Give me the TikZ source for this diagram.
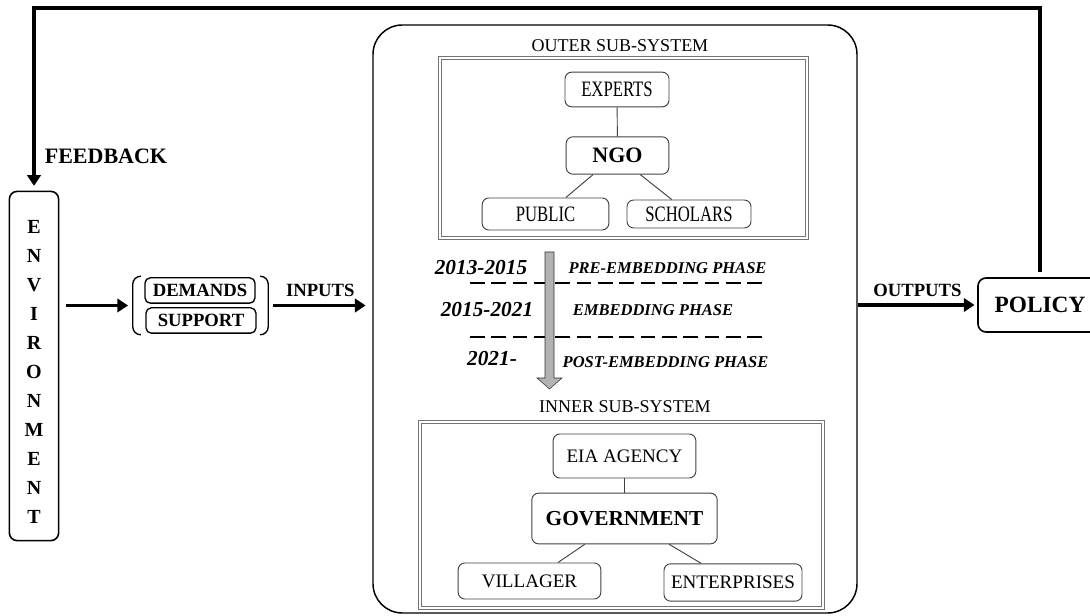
\documentclass[tikz,border=0pt]{standalone}
\usepackage{fontspec}
\setmainfont{Liberation Serif}
\usepackage{graphicx}
\usetikzlibrary{arrows.meta, calc, positioning, fit}

\newcommand{\fsz}[1]{\fontsize{#1pt}{#1pt}\selectfont}
\newcommand{\narrow}[1]{\scalebox{0.76}[1]{#1}}

\tikzset{
  actor/.style={draw=black!75, line width=0.7pt, rounded corners=5pt, inner sep=0pt},
  link/.style={draw=black!75, line width=0.7pt},
  frame/.style={draw=black!55, double=white, double distance=1.2pt, line width=0.6pt},
  flow/.style={line width=2.4pt, -{Triangle[length=8pt,width=10pt]}},
  phase/.style={font=\fsz{12.4}\bfseries\itshape},
  year/.style={font=\fsz{16}\bfseries\itshape},
  tag/.style={font=\fsz{14}\bfseries},
  title/.style={font=\fsz{13.5}}
}

\begin{document}
\begin{tikzpicture}[x=0.75pt, y=-0.75pt]
\useasboundingbox (0,0) rectangle (1090,616);

% Political system
\node[draw, line width=1.1pt, rounded corners=22pt, minimum width=363pt, minimum height=441pt] (sys) at (615,319) {};

% Outer sub-system
\node[title] (outertitle) at (620,46) {OUTER SUB-SYSTEM};
\draw[frame] (440,58) rectangle (807,238);
\node[actor, minimum width=78pt, minimum height=26pt, font=\fsz{16.5}] (experts) at (617,89.5) {\narrow{EXPERTS}};
\node[actor, minimum width=77pt, minimum height=28pt, font=\fsz{16.5}\bfseries] (ngo) at (617.5,155.5) {NGO};
\node[actor, minimum width=95pt, minimum height=24pt, font=\fsz{16.5}] (public) at (545.5,214) {\narrow{PUBLIC}};
\node[actor, minimum width=93pt, minimum height=21pt, font=\fsz{16.5}] (scholars) at (689,214) {\narrow{SCHOLARS}};
\draw[link] (experts) -- (ngo);
\draw[link] (ngo.218) -- (public.39);
\draw[link] (ngo.320) -- (scholars.140);

% Phases
\draw[line width=1.5pt, dash pattern=on 11pt off 5pt] (470,283) -- (767,283);
\draw[line width=1.5pt, dash pattern=on 11pt off 5pt] (470,337) -- (767,337);
\filldraw[fill=gray!60, draw=gray!40!black, line width=0.4pt] (545,252) -- (554,252) -- (554,378) -- (562,378) -- (549.5,389) -- (537,378) -- (545,378) -- cycle;
\node[year] (y1) at (481,268) {2013-2015};
\node[year] (y2) at (487,310) {2015-2021};
\node[year] (y3) at (492,359) {2021-};
\node[phase] (p1) at (667.5,268) {PRE-EMBEDDING PHASE};
\node[phase] (p2) at (653,310) {EMBEDDING PHASE};
\node[phase] (p3) at (665.5,362) {POST-EMBEDDING PHASE};

% Inner sub-system
\node[title] (innertitle) at (625,407) {INNER SUB-SYSTEM};
\draw[frame] (420,422) rectangle (823,608);
\node[actor, minimum width=107pt, minimum height=33pt, font=\fsz{14.3}] (eia) at (624.5,456) {EIA AGENCY};
\node[actor, minimum width=139pt, minimum height=38pt, font=\fsz{16}\bfseries] (gov) at (624.5,518.5) {GOVERNMENT};
\node[actor, minimum width=107pt, minimum height=27pt, font=\fsz{14.3}] (villager) at (529.5,581) {VILLAGER};
\node[actor, minimum width=103.5pt, minimum height=28pt, font=\fsz{14.3}] (enterprises) at (733,582.5) {ENTERPRISES};
\draw[link] (eia) -- (gov);
\draw[link] (gov.213) -- (villager.33);
\draw[link] (gov.330) -- (enterprises.149);

% Environment and inputs
\node[draw, line width=1.2pt, rounded corners=6pt, minimum width=37pt, minimum height=262pt, inner sep=0pt,
      font=\fontsize{15pt}{21.7pt}\selectfont\bfseries] (env) at (34,366)
      {\raisebox{-5pt}[\height][\depth]{\begin{tabular}{@{}c@{}}E\\N\\V\\I\\R\\O\\N\\M\\E\\N\\T\end{tabular}}};
\node[draw, line width=1pt, rounded corners=4pt, minimum width=82.5pt, minimum height=19pt, inner sep=0pt, tag] (demands) at (200,290.5) {DEMANDS};
\node[draw, line width=1pt, rounded corners=4pt, minimum width=82.5pt, minimum height=19pt, inner sep=0pt, tag] (support) at (201,320.5) {SUPPORT};
\node[fit=(demands)(support), inner xsep=8.5pt, inner ysep=0.5pt] (grp) {};
\draw[line width=1pt, rounded corners=6pt] ($(grp.north west)+(7,0)$) -- (grp.north west) -- (grp.south west) -- ($(grp.south west)+(7,0)$);
\draw[line width=1pt, rounded corners=6pt] ($(grp.north east)+(-7,0)$) -- (grp.north east) -- (grp.south east) -- ($(grp.south east)+(-7,0)$);
\draw[flow, shorten <=5pt, shorten >=3.5pt] (env.east |- grp.west) -- (grp.west);
\draw[flow, shorten <=3.5pt, shorten >=5pt] (grp.east) -- (sys.west |- grp.east) node[tag, midway, above=2pt] (inputs) {INPUTS};

% Outputs and feedback
\node[draw, line width=1.2pt, rounded corners=6pt, minimum width=93pt, minimum height=40.5pt, font=\fsz{17.5}\bfseries] (policy) at (1040,305) {POLICY};
\draw[flow, shorten >=2pt] (sys.east |- policy.west) -- (policy.west) node[tag, midway, above=2pt] (outputs) {OUTPUTS};
\coordinate (fbtop) at (0,8);
\draw[flow, shorten <=4pt, shorten >=3.5pt] (policy.north) |- (env.north |- fbtop) -- (env.north);
\node[font=\fsz{16.5}\bfseries] (feedback) at (106,156) {FEEDBACK};

\end{tikzpicture}
\end{document}
